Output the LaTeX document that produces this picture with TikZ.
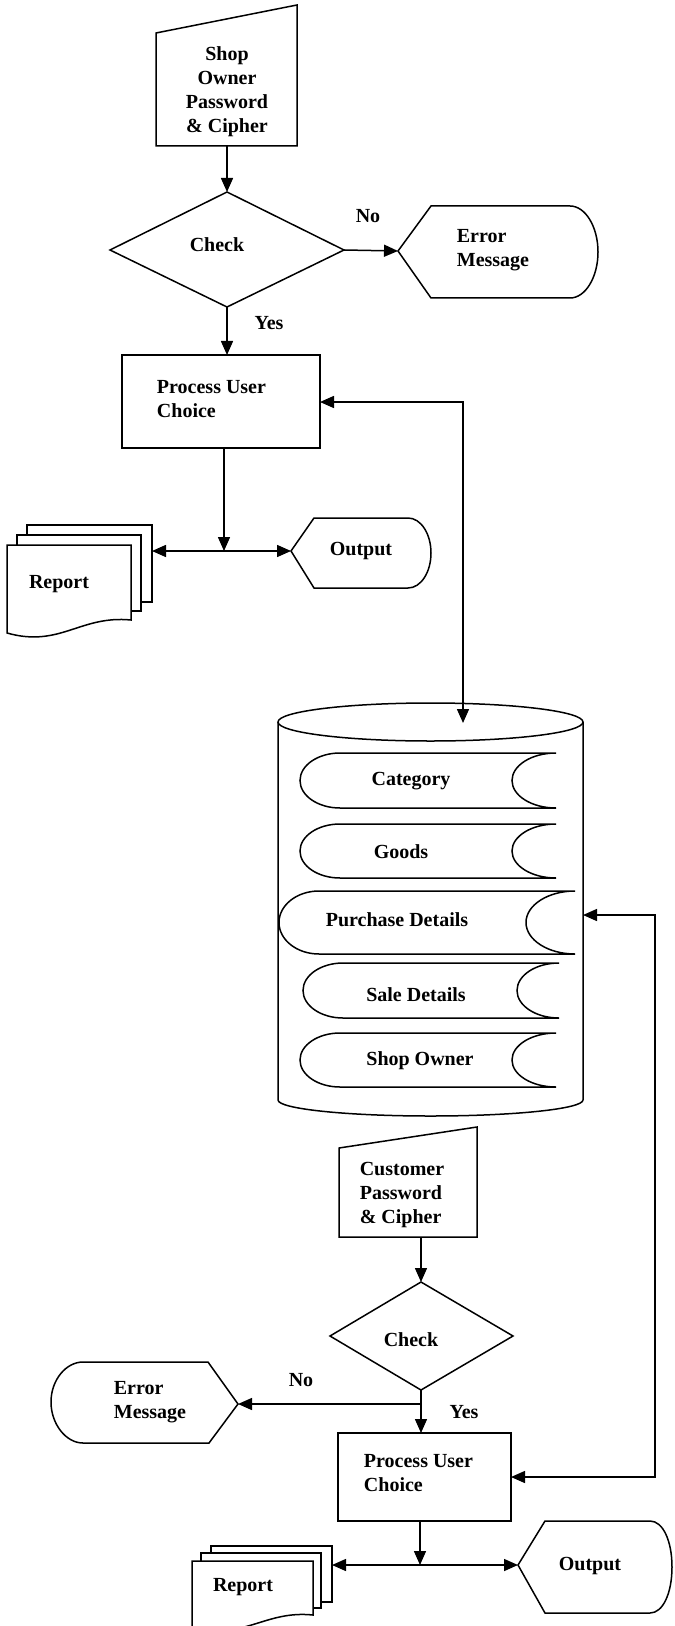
\documentclass[tikz,border=0pt]{standalone}
\usepackage{fontspec}
\setmainfont{Liberation Serif}
\usetikzlibrary{arrows.meta}
\newcommand{\storedrec}[5]{% L R T B b
  \draw[fill=white] ({#1+40},#3) -- (#2,#3)
    .. controls ({#2-0.552*#5},#3) and ({#2-#5},{(#3+#4)/2-0.276*(#4-#3)}) .. ({#2-#5},{(#3+#4)/2})
    .. controls ({#2-#5},{(#3+#4)/2+0.276*(#4-#3)}) and ({#2-0.552*#5},#4) .. (#2,#4)
    -- ({#1+40},#4)
    .. controls ({#1+40*0.448},#4) and (#1,{(#3+#4)/2+0.276*(#4-#3)}) .. (#1,{(#3+#4)/2})
    .. controls (#1,{(#3+#4)/2-0.276*(#4-#3)}) and ({#1+40*0.448},#3) .. ({#1+40},#3);
}
\begin{document}
\begin{tikzpicture}[x=0.5pt,y=-0.5pt,
  line width=0.75pt,
  lbl/.style={font=\bfseries\fontsize{10}{12}\selectfont, inner sep=0pt},
  arr/.style={-{Triangle[length=7pt,width=6pt]}},
  darr/.style={{Triangle[length=7pt,width=6pt]}-{Triangle[length=7pt,width=6pt]}},
  shapeline/.style={draw, fill=white}
]
\useasboundingbox (0,0) rectangle (674,1626);

% ---------- top: shop owner ----------
\path[shapeline] (156,33) -- (297,5) -- (297,146) -- (156,146) -- cycle;
\node[lbl, align=center] (in1t) at (227,92) {Shop\\Owner\\Password\\\& Cipher};
\coordinate (in1s) at (227,146);

\path[shapeline] (227,192) -- (344,250) -- (227,307) -- (110,250) -- cycle;
\coordinate (d1n) at (227,192);
\coordinate (d1e) at (344,250);
\coordinate (d1s) at (227,307);
\node[lbl] (d1t) at (217,245) {Check};

\path[shapeline] (398,251) -- (431,206) -- (570,206)
  .. controls (585.5,206) and (598,227) .. (598,252)
  .. controls (598,277) and (585.5,298) .. (570,298) -- (431,298) -- cycle;
\coordinate (e1w) at (398,251);
\node[lbl, align=left] (e1t) at (493,250) {Error\\Message};

\node[lbl] (no1) at (368,216) {No};
\node[lbl] (yes1) at (269,323) {Yes};

\path[shapeline] (122,355) rectangle (320,448);
\coordinate (p1n) at (227,355);
\coordinate (p1s) at (224,448);
\coordinate (p1e) at (320,402);
\node[lbl, align=left] (p1t) at (211.5,399) {Process User\\Choice};

% report 1
\path[shapeline] (27,525) rectangle (152,602);
\path[shapeline] (17,535) rectangle (141,611);
\path[shapeline] (7,545) -- (131,545) -- (131,620)
  .. controls (80,615) and (60,648) .. (7,633) -- cycle;
\coordinate (r1e) at (152,551);
\node[lbl] (r1t) at (59,584) {Report};

% output 1
\path[shapeline] (291,551) -- (314,518) -- (408,518)
  .. controls (421,518) and (431,534) .. (431,553)
  .. controls (431,572) and (421,588) .. (408,588) -- (314,588) -- cycle;
\coordinate (o1w) at (291,551);
\node[lbl] (o1t) at (361,551) {Output};
\coordinate (j1) at (224,551);

% ---------- database ----------
\draw (278,722) -- (278,1100)
  .. controls (278,1108.8) and (346.3,1116) .. (430.5,1116)
  .. controls (514.7,1116) and (583,1108.8) .. (583,1100) -- (583,722);
\draw (430.5,722) ellipse [x radius=152.5, y radius=19];
\coordinate (cyltop) at (463,723);
\coordinate (cylr) at (583,915);

\storedrec{300}{556}{753}{808}{44}
\node[lbl] (rec1) at (411,781) {Category};
\storedrec{300}{556}{824}{878}{44}
\node[lbl] (rec2) at (401,852) {Goods};
\storedrec{279}{575}{891}{954}{49}
\node[lbl] (rec3) at (397,920) {Purchase Details};
\storedrec{303}{559}{963}{1018}{42}
\node[lbl] (rec4) at (416,995) {Sale Details};
\storedrec{300}{556}{1033}{1087}{44}
\node[lbl] (rec5) at (420,1061) {Shop Owner};

% ---------- bottom: customer ----------
\path[shapeline] (339,1148) -- (477,1127) -- (477,1237) -- (339,1237) -- cycle;
\node[lbl, align=left] (in2t) at (402,1194.5) {Customer\\Password\\\& Cipher};
\coordinate (in2s) at (421,1237);

\path[shapeline] (421,1282) -- (513,1336) -- (421,1390) -- (330,1336) -- cycle;
\coordinate (d2n) at (421,1282);
\coordinate (d2s) at (421,1390);
\coordinate (b2) at (421,1404);
\node[lbl] (d2t) at (411,1340) {Check};

\path[shapeline] (238,1404) -- (208,1362) -- (83,1362)
  .. controls (66,1362) and (51,1380) .. (51,1402)
  .. controls (51,1424) and (66,1443) .. (83,1443) -- (209,1443) -- cycle;
\coordinate (e2e) at (238,1404);
\node[lbl, align=left] (e2t) at (150,1402) {Error\\Message};

\node[lbl] (no2) at (301,1380) {No};
\node[lbl] (yes2) at (464,1412) {Yes};

\path[shapeline] (338,1433) rectangle (511,1521);
\coordinate (p2n) at (421,1433);
\coordinate (p2s) at (420,1521);
\coordinate (p2e) at (511,1477);
\node[lbl, align=left] (p2t) at (418.5,1473) {Process User\\Choice};

% report 2
\path[shapeline] (211,1546) rectangle (332,1602);
\path[shapeline] (201,1553) rectangle (321,1608);
\path[shapeline] (192,1561) -- (313,1561) -- (313,1615)
  .. controls (265,1610) and (245,1640) .. (192,1628) -- cycle;
\coordinate (r2e) at (332,1565);
\node[lbl] (r2t) at (243,1587) {Report};

% output 2
\path[shapeline] (518,1565) -- (545,1521) -- (650,1521)
  .. controls (663,1521) and (672,1541) .. (672,1567)
  .. controls (672,1593) and (663,1613) .. (650,1613) -- (545,1613) -- cycle;
\coordinate (o2w) at (518,1565);
\node[lbl] (o2t) at (590,1566) {Output};
\coordinate (j2) at (420,1565);

% ---------- connectors ----------
\draw[arr] (in1s) -- (d1n);
\draw[arr] (d1e) -- (e1w);
\draw[arr] (d1s) -- (p1n);
\draw[arr] (p1s) -- (j1);
\draw[darr] (r1e) -- (o1w);
\coordinate (c1) at (463,402);
\draw[darr] (p1e) -- (c1) -- (cyltop);

\coordinate (c2) at (655,915);
\coordinate (c3) at (655,1477);
\draw[darr] (cylr) -- (c2) -- (c3) -- (p2e);

\draw[arr] (in2s) -- (d2n);
\draw[arr] (d2s) -- (p2n);
\draw[arr] (b2) -- (e2e);
\draw[arr] (p2s) -- (j2);
\draw[darr] (r2e) -- (o2w);
\end{tikzpicture}
\end{document}
